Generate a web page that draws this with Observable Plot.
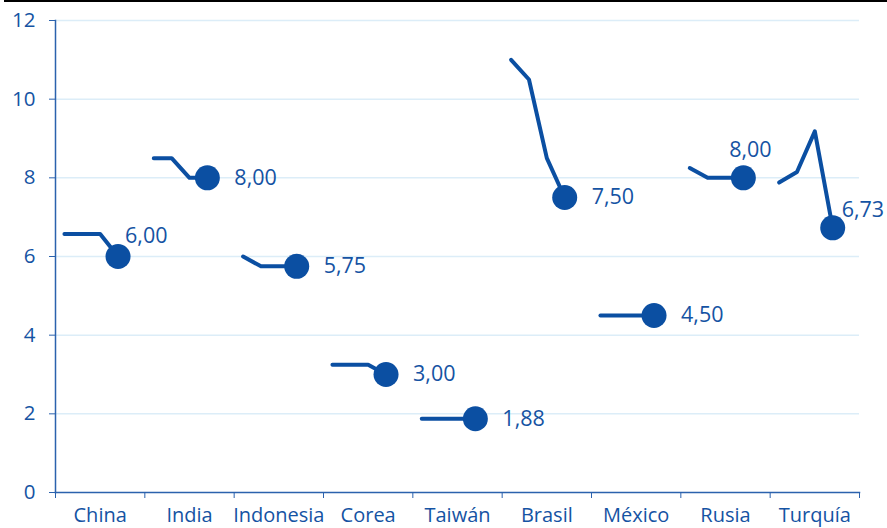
<!DOCTYPE html>
<html><head><meta charset="utf-8">
<script src="https://cdn.jsdelivr.net/npm/d3@7"></script>
<script src="https://cdn.jsdelivr.net/npm/@observablehq/plot@0.6"></script>
<style>
body{margin:0;background:#fff;font-family:"Open Sans",sans-serif;}
#wrap{position:relative;width:887px;height:528px;overflow:hidden;}
#topline{position:absolute;left:4px;right:0;top:0;height:2px;background:#000;}
#wrap svg{display:block;}
</style></head><body><div id="wrap"><div id="topline"></div></div>
<script>
const categories = ["China","India","Indonesia","Corea","Taiwán","Brasil","México","Rusia","Turquía"];
const china = [6.57, 6.57, 6.57, 6.00];
const india = [8.50, 8.50, 8.00, 8.00];
const indonesia = [6.00, 5.75, 5.75, 5.75];
const corea = [3.25, 3.25, 3.25, 3.00];
const taiwan = [1.875, 1.875, 1.875, 1.875];
const brasil = [11.00, 10.50, 8.50, 7.50];
const mexico = [4.50, 4.50, 4.50, 4.50];
const rusia = [8.25, 8.00, 8.00, 8.00];
const turquia = [7.88, 8.15, 9.18, 6.73];
const endLabels = ["6,00","8,00","5,75","3,00","1,88","7,50","4,50","8,00","6,73"];
const yTicks = [0, 2, 4, 6, 8, 10, 12];

const seriesValues = [china, india, indonesia, corea, taiwan, brasil, mexico, rusia, turquia];
const slots = 5;

const points = seriesValues.flatMap((vals, c) =>
  vals.map((v, j) => ({category: categories[c], x: c * slots + j + 0.5, y: v})));
const ends = seriesValues.map((vals, c) => ({
  category: categories[c], x: c * slots + vals.length - 0.5,
  y: vals[vals.length - 1], label: endLabels[c]
}));

const color = "#0b4fa2";
const textColor = "#1553a3";
const labelSize = 21.5;
const special = {
  "China":   {dx: 7, dy: -20, textAnchor: "start"},
  "Rusia":   {dx: 7, dy: -28, textAnchor: "middle"},
  "Turquía": {dx: 9, dy: -18, textAnchor: "start"}
};
const labelMarks = [
  Plot.text(ends.filter(d => !special[d.category]), {x: "x", y: "y", text: "label", dx: 27, textAnchor: "start", fill: textColor, fontSize: labelSize})
].concat(Object.entries(special).map(([k, s]) =>
  Plot.text(ends.filter(d => d.category === k), {x: "x", y: "y", text: "label", ...s, fill: textColor, fontSize: labelSize})));

const chart = Plot.plot({
  width: 887, height: 528,
  marginLeft: 55, marginRight: 28, marginTop: 20, marginBottom: 36,
  style: {fontFamily: "'Open Sans', sans-serif", fontSize: "20px", color: textColor, background: "transparent", overflow: "visible"},
  x: {domain: [0, categories.length * slots], label: null},
  y: {domain: [0, 12], label: null},
  marks: [
    Plot.gridY({ticks: yTicks.filter(d => d > 0), stroke: "#dcedf8", strokeOpacity: 1, strokeWidth: 1.5}),
    Plot.frame({anchor: "left", stroke: "#2b62ad", strokeWidth: 1.5}),
    Plot.frame({anchor: "bottom", stroke: "#2b62ad", strokeWidth: 1.5}),
    Plot.axisY({ticks: yTicks, tickSize: 6, tickPadding: 14, fontSize: 20.5, stroke: "#2b62ad", fill: textColor}),
    Plot.axisX({ticks: d3.range(0, categories.length * slots + 1, slots), tickFormat: () => "", tickSize: 6, stroke: "#2b62ad"}),
    Plot.axisX({ticks: categories.map((_, i) => i * slots + slots / 2), tickFormat: d => categories[Math.floor(d / slots)], tickSize: 0, tickPadding: 15, fontSize: 20, fill: textColor}),
    Plot.line(points, {x: "x", y: "y", z: "category", stroke: color, strokeWidth: 4, strokeLinecap: "round", strokeLinejoin: "round"}),
    Plot.dot(ends, {x: "x", y: "y", r: 12.5, fill: color, stroke: "none"}),
    ...labelMarks
  ]
});
document.getElementById("wrap").appendChild(chart);
</script></body></html>
